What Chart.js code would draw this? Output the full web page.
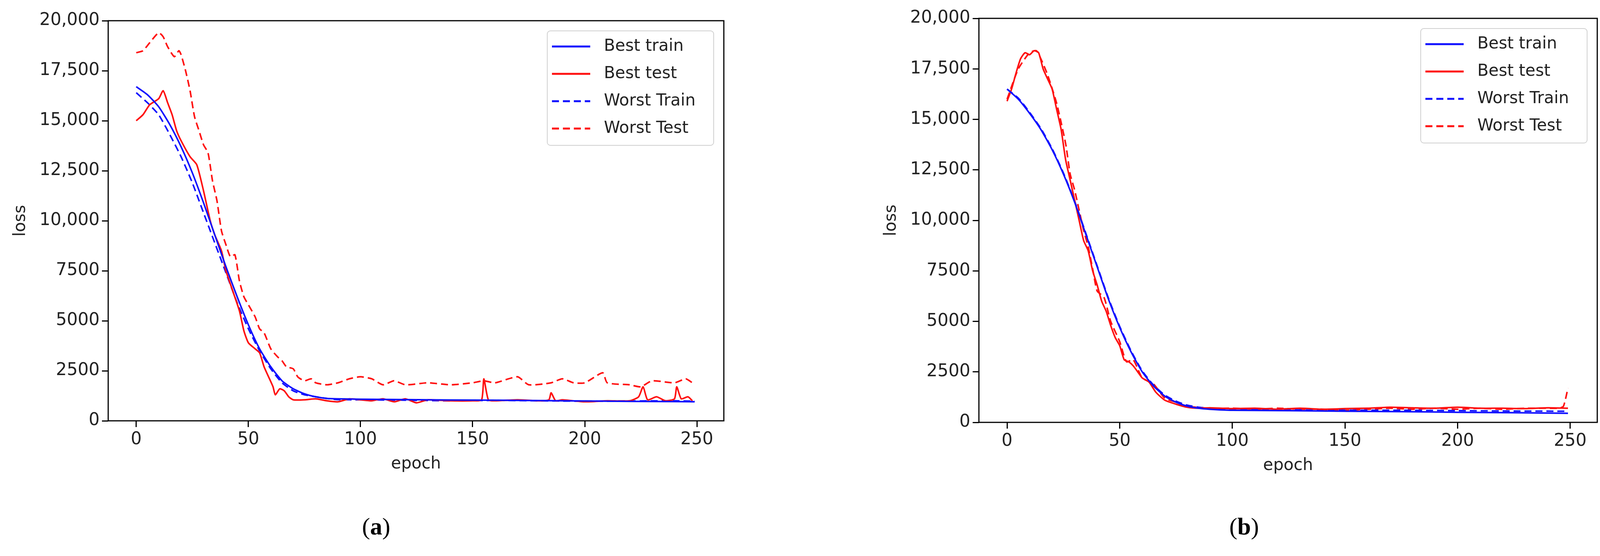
<!DOCTYPE html>
<html><head><meta charset="utf-8">
<script src="https://cdn.jsdelivr.net/npm/chart.js@4.4.0/dist/chart.umd.min.js"></script>
<style>
body{margin:0;background:#fff;width:4115px;height:1423px;position:relative;overflow:hidden}
.c{position:absolute;top:0;width:2057px;height:1423px}
.cap{position:absolute;top:1312px;font-family:"Liberation Serif",serif;font-size:62px;transform:translateX(-50%)}
</style></head><body>
<div class="c" style="left:0"><canvas id="ca"></canvas></div>
<div class="c" style="left:2057px;width:2058px"><canvas id="cb"></canvas></div>
<div class="cap" style="left:963px">(<b>a</b>)</div>
<div class="cap" style="left:3185px">(<b>b</b>)</div>
<script>
const yTickLabels = {0:"0",2500:"2500",5000:"5000",7500:"7500",10000:"10,000",12500:"12,500",15000:"15,000",17500:"17,500",20000:"20,000"};
const xTickValues = [0,50,100,150,200,250];
const seriesNames = ["Best train","Best test","Worst Train","Worst Test"];

// Panel (a)
const aTrainEp = [0,5,10,15,20,25,30,35,40,45,50,55,60,65,70,75,80,85,90,100,120,140,160,180,200,220,240,249];
const aBestTrain = [16700,16300,15700,14800,13700,12400,10900,9300,7700,6200,4800,3600,2700,2000,1600,1350,1200,1120,1100,1080,1060,1040,1030,1010,990,970,960,950];
const aWorstTrain = [16400,15900,15300,14300,13200,11900,10400,8900,7400,5900,4600,3500,2600,1900,1500,1300,1200,1120,1060,1050,1030,1000,1020,1000,980,990,1000,980];
const aBestTestEp = [0,3,6,10,12,14,16,18,20,24,27,30,33,35,38,40,43,46,48,50,53,55,57,59,61,62,64,66,68,70,75,80,85,90,95,100,105,110,115,120,125,130,140,150,154,155,157,160,170,180,184,185,187,190,200,210,220,224,226,228,232,236,240,241,243,246,248];
const aBestTest = [15000,15300,15800,16100,16500,15900,15300,14500,14000,13200,12800,11500,10000,9300,8500,7500,6500,5500,4500,3900,3600,3400,2700,2200,1700,1300,1600,1500,1200,1050,1050,1100,1000,950,1100,1050,1000,1100,950,1100,900,1050,1000,1000,1050,2100,1050,1000,1050,1000,1050,1400,1000,1050,950,1000,1000,1200,1700,1050,1200,1000,1100,1700,1100,1200,1000];
const aWorstTestEp = [0,3,6,10,12,14,17,19,20,22,24,26,28,30,32,34,36,38,40,42,44,46,48,50,53,55,57,60,63,65,67,70,72,75,78,80,85,90,95,100,105,110,115,120,130,140,150,155,160,170,175,185,190,195,200,208,210,220,225,230,240,245,248];
const aWorstTest = [18400,18500,18900,19400,19200,18700,18200,18500,18300,17500,16500,15200,14500,13800,13400,12000,11000,9500,8800,8200,8300,7000,6200,5800,5200,4600,4400,3600,3200,3000,2700,2600,2200,2000,2100,1900,1800,1900,2100,2200,2100,1800,2000,1800,1900,1800,1900,2000,1900,2200,1800,1900,2100,1900,1900,2400,1900,1800,1700,2000,1900,2100,1900];

// Panel (b)
const bTrainEp = [0,5,10,15,20,25,30,35,40,45,50,55,60,65,70,75,80,85,90,100,125,150,175,200,225,249];
const bBestTrain = [16500,16000,15300,14500,13500,12300,10900,9300,7700,6100,4700,3500,2500,1800,1300,1000,800,700,650,600,580,550,530,500,480,450];
const bWorstTrain = [16500,16050,15350,14550,13550,12350,10950,9350,7750,6150,4750,3550,2550,1850,1350,1050,850,750,700,650,620,600,600,580,560,550];
const bBestTestEp = [0,2,4,6,8,10,12,14,16,18,20,22,24,26,28,30,32,34,36,38,40,42,44,46,48,50,52,54,56,58,60,63,66,70,75,80,85,90,100,110,120,130,140,150,160,170,180,190,200,210,220,230,240,249];
const bBestTest = [15900,16500,17300,18000,18300,18200,18400,18300,17500,17000,16500,15500,14500,13000,12000,11000,10000,9000,8500,7500,6800,6000,5500,4800,4200,3800,3100,3000,2800,2500,2200,2000,1500,1100,900,750,700,720,680,700,650,700,650,680,700,750,720,700,750,700,700,680,720,700];
const bWorstTestEp = [0,5,10,13,15,18,22,26,28,30,32,34,36,38,40,43,46,50,53,56,60,65,70,75,80,90,100,110,120,130,140,150,160,170,180,190,200,210,220,230,240,245,247,249];
const bWorstTest = [16000,17500,18300,18400,18000,17200,15800,13800,12300,11500,10500,9500,8700,7600,6500,6200,5000,4000,3000,3100,2200,1900,1200,1000,800,700,700,650,700,650,650,600,650,700,650,700,650,700,650,700,700,700,800,1700];

const toXY = (ep, v) => ep.map((e, i) => ({x: e, y: v[i]}));
const FONT = "DejaVu Sans";

const legendPlugin = {
  id: 'boxLegend',
  afterDatasetsDraw(chart) {
    const c = chart.ctx, a = chart.chartArea;
    c.save();
    c.strokeStyle = '#000'; c.lineWidth = 3;
    c.strokeRect(a.left, a.top, a.right - a.left, a.bottom - a.top);
    const w = 426, h = 293, x = a.right - 26 - w, y = a.top + 26;
    c.fillStyle = 'rgba(255,255,255,0.85)'; c.strokeStyle = '#d0d0d0'; c.lineWidth = 2;
    c.beginPath(); c.roundRect(x, y, w, h, 8); c.fill(); c.stroke();
    c.font = '42px "' + FONT + '"'; c.textBaseline = 'middle';
    chart.data.datasets.forEach((d, i) => {
      const yy = y + 40 + i * 70;
      c.strokeStyle = d.borderColor; c.lineWidth = 5; c.setLineDash(d.borderDash || []);
      c.beginPath(); c.moveTo(x + 12, yy); c.lineTo(x + 110, yy); c.stroke();
      c.setLineDash([]); c.fillStyle = '#222'; c.fillText(d.label, x + 145, yy);
    });
    c.restore();
  }
};

function makeChart(id, sets, pad) {
  const colors = ['#1010ff', '#ff1010', '#1010ff', '#ff1010'];
  const dashes = [[], [], [18, 10], [18, 10]];
  return new Chart(document.getElementById(id), {
    type: 'line',
    data: {datasets: sets.map((s, i) => ({label: seriesNames[i], data: s, borderColor: colors[i],
      borderDash: dashes[i], borderWidth: 4, pointRadius: 0, tension: 0.2, fill: false}))},
    options: {
      responsive: true, maintainAspectRatio: false, animation: false,
      layout: {padding: pad},
      plugins: {legend: {display: false}, tooltip: {enabled: false}},
      scales: {
        x: {type: 'linear', min: -12.5, max: 262,
          afterBuildTicks: s => { s.ticks = xTickValues.map(v => ({value: v})); },
          afterFit: s => { s.height = 140; },
          grid: {drawOnChartArea: false, tickLength: 16, color: '#000', lineWidth: 3},
          border: {display: false},
          ticks: {color: '#222', font: {family: FONT, size: 44}, padding: 6},
          title: {display: true, text: 'epoch', color: '#222', font: {family: FONT, size: 42}}},
        y: {min: 0, max: 20000,
          afterBuildTicks: s => { s.ticks = Object.keys(yTickLabels).map(v => ({value: +v})); },
          afterFit: s => { s.width = 277; },
          grid: {drawOnChartArea: false, tickLength: 16, color: '#000', lineWidth: 3},
          border: {display: false},
          ticks: {color: '#222', font: {family: FONT, size: 44}, padding: 6, callback: v => yTickLabels[v]},
          title: {display: true, text: 'loss', color: '#222', font: {family: FONT, size: 42}, padding: {top: 28, bottom: 4}}}
      }
    },
    plugins: [legendPlugin]
  });
}

makeChart('ca', [toXY(aTrainEp, aBestTrain), toXY(aBestTestEp, aBestTest), toXY(aTrainEp, aWorstTrain), toXY(aWorstTestEp, aWorstTest)],
  {left: 0, right: 204, top: 53, bottom: 206});
makeChart('cb', [toXY(bTrainEp, bBestTrain), toXY(bBestTestEp, bBestTest), toXY(bTrainEp, bWorstTrain), toXY(bWorstTestEp, bWorstTest)],
  {left: 172, right: 26, top: 47, bottom: 202});
</script></body></html>
